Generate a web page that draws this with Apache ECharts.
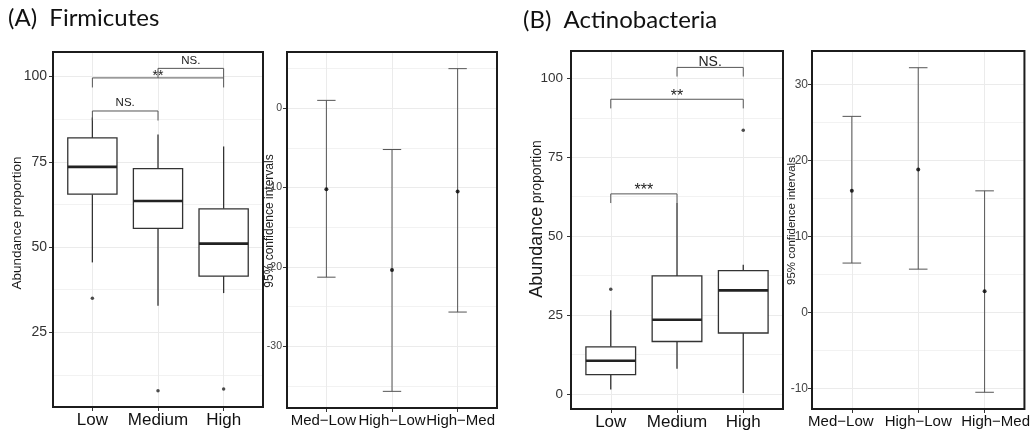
<!DOCTYPE html>
<html>
<head>
<meta charset="utf-8">
<script src="https://cdn.jsdelivr.net/npm/echarts@6/dist/echarts.min.js"></script>
<style>
  html, body { margin: 0; padding: 0; background: #fff; }
  #chart { width: 1033px; height: 432px; }
</style>
</head>
<body>
<div id="chart"></div>
<script>
// ---- data -------------------------------------------------------------
const groupLabels = ['Low', 'Medium', 'High'];
const contrastLabels = ['Med\u2212Low', 'High\u2212Low', 'High\u2212Med'];

// box summaries per group: [lower whisker, Q1, median, Q3, upper whisker]
const firmicutesBoxes = [
  [45.5, 65.5, 73.5, 82.0, 88.0],
  [32.8, 55.5, 63.5, 73.0, 83.0],
  [36.5, 41.5, 51.0, 61.2, 79.5]
];
// outliers: [group number, value]
const firmicutesOutliers = [[1, 35.0], [2, 7.9], [3, 8.4]];
// significance brackets: [from group, to group, height, label]
const firmicutesBrackets = [
  [1, 2, 89.9, 'NS.'],
  [1, 3, 99.6, '**'],
  [2, 3, 102.4, 'NS.']
];
// Tukey 95% confidence intervals: [lower, difference, upper]
const firmicutesCI = [
  [-21.3, -10.2, 1.0],
  [-35.7, -20.4, -5.2],
  [-25.7, -10.5, 5.0]
];

const actinoBoxes = [
  [1.4, 6.1, 10.5, 14.9, 26.5],
  [8.0, 16.6, 23.5, 37.4, 60.5],
  [0.3, 19.3, 32.8, 39.1, 40.9]
];
const actinoOutliers = [[1, 33.2], [3, 83.6]];
const actinoBrackets = [
  [1, 2, 63.4, '***'],
  [1, 3, 93.4, '**'],
  [2, 3, 103.5, 'NS.']
];
const actinoCI = [
  [6.5, 16.0, 25.8],
  [5.7, 18.8, 32.2],
  [-10.5, 2.8, 16.0]
];

// tick labels
const firmicutesTicks = [25, 50, 75, 100];
const actinoTicks = [0, 25, 50, 75, 100];
const firmicutesCITicks = [-30, -20, -10, 0];
const actinoCITicks = [-10, 0, 10, 20, 30];

// ---- drawing helpers ----------------------------------------------------
const SANS = "'Liberation Sans', Arial, Helvetica, sans-serif";
const INK = '#333';

function boxRenderer(params, api) {
  const x = api.value(0);
  const lo = api.coord([x, api.value(1)]);
  const q1 = api.coord([x, api.value(2)]);
  const md = api.coord([x, api.value(3)]);
  const q3 = api.coord([x, api.value(4)]);
  const hi = api.coord([x, api.value(5)]);
  const half = api.size([0.75, 0])[0] / 2;
  const st = { stroke: INK, lineWidth: 1.3 };
  return {
    type: 'group',
    children: [
      { type: 'line', shape: { x1: lo[0], y1: lo[1], x2: q1[0], y2: q1[1] }, style: st },
      { type: 'line', shape: { x1: q3[0], y1: q3[1], x2: hi[0], y2: hi[1] }, style: st },
      { type: 'rect', shape: { x: q1[0] - half, y: q3[1], width: half * 2, height: q1[1] - q3[1] },
        style: { fill: '#fff', stroke: INK, lineWidth: 1.3 } },
      { type: 'line', shape: { x1: md[0] - half, y1: md[1], x2: md[0] + half, y2: md[1] },
        style: { stroke: '#222', lineWidth: 2.6 } }
    ]
  };
}

function bracketRenderer(list, tip, txt) {
  return function (params, api) {
    const x1 = api.value(0), x2 = api.value(1), y = api.value(2);
    const a = api.coord([x1, y - tip]);
    const b = api.coord([x1, y]);
    const c = api.coord([x2, y]);
    const d = api.coord([x2, y - tip]);
    const label = list[params.dataIndex][3];
    const stars = label.indexOf('*') === 0;
    return {
      type: 'group',
      children: [
        { type: 'polyline', shape: { points: [a, b, c, d] },
          style: { stroke: '#555', lineWidth: 1, fill: null } },
        { type: 'text', x: (b[0] + c[0]) / 2, y: stars ? b[1] - txt.starLift : b[1] - txt.lift,
          style: { text: label, align: 'center', verticalAlign: stars ? 'middle' : 'bottom',
                   fontSize: stars ? txt.starSize : txt.size, fontFamily: SANS, fill: '#222' } }
      ]
    };
  };
}

function ciRenderer(params, api) {
  const x = api.value(0);
  const lo = api.coord([x, api.value(1)]);
  const hi = api.coord([x, api.value(3)]);
  const half = api.size([0.28, 0])[0] / 2;
  const st = { stroke: '#555', lineWidth: 1 };
  return {
    type: 'group',
    children: [
      { type: 'line', shape: { x1: lo[0], y1: lo[1], x2: hi[0], y2: hi[1] }, style: st },
      { type: 'line', shape: { x1: lo[0] - half, y1: lo[1], x2: lo[0] + half, y2: lo[1] }, style: st },
      { type: 'line', shape: { x1: hi[0] - half, y1: hi[1], x2: hi[0] + half, y2: hi[1] }, style: st }
    ]
  };
}

function gridCfg(left, top, width, height) {
  return { left, top, width, height, show: true, z: 10,
           backgroundColor: 'transparent', borderColor: '#1c1c1c', borderWidth: 2 };
}

// nudge: horizontal shift in px for the outer labels (first, last)
function xAxisCfg(gridIndex, labels, fontSize, color, nudge) {
  const n = nudge || 0;
  return {
    type: 'value', gridIndex, min: 0.4, max: 3.6, minInterval: 1, maxInterval: 1,
    axisLine: { show: false, onZero: false },
    axisTick: { show: true, length: 4, customValues: [1, 2, 3], lineStyle: { color: INK } },
    axisLabel: {
      customValues: [1, 2, 3],
      formatter: v => {
        const i = Math.round(v) - 1;
        const key = i === 0 ? 'l' : (i === 2 ? 'r' : 'c');
        return '{' + key + '|' + (labels[i] || '') + '}';
      },
      rich: {
        l: { fontSize, color, fontFamily: SANS, padding: [0, 2 * n, 0, 0] },
        c: { fontSize, color, fontFamily: SANS },
        r: { fontSize, color, fontFamily: SANS, padding: [0, 0, 0, 2 * n] }
      },
      fontSize, color, margin: 5, fontFamily: SANS,
      showMinLabel: true, showMaxLabel: true, hideOverlap: false
    },
    splitLine: { show: true, lineStyle: { color: '#ebebeb', width: 1 } }
  };
}

function yAxisCfg(gridIndex, min, max, step, ticks, fontSize, margin, color) {
  return {
    type: 'value', gridIndex, min, max, minInterval: step, maxInterval: step,
    axisLine: { show: false, onZero: false },
    axisTick: { show: true, length: 4, customValues: ticks, lineStyle: { color: INK } },
    axisLabel: { customValues: ticks, fontSize, color, margin, fontFamily: SANS,
                 showMinLabel: true, showMaxLabel: true, hideOverlap: false },
    splitLine: { show: true, lineStyle: { color: '#ebebeb', width: 1 } },
    minorTick: { show: false, splitNumber: 2 },
    minorSplitLine: { show: true, lineStyle: { color: '#f2f2f2', width: 1 } }
  };
}

const withGroup = rows => rows.map((r, i) => [i + 1].concat(r));

// ---- chart ------------------------------------------------------------
const chart = echarts.init(document.getElementById('chart'), null, { renderer: 'canvas' });

chart.setOption({
  backgroundColor: '#fff',
  animation: false,
  grid: [
    gridCfg(53, 52, 210, 355),
    gridCfg(287, 52, 210, 356),
    gridCfg(571, 51, 212, 358),
    gridCfg(812, 51, 215, 358)
  ],
  xAxis: [
    xAxisCfg(0, groupLabels, 17, '#111', 0),
    xAxisCfg(1, contrastLabels, 15, '#111', 3),
    xAxisCfg(2, groupLabels, 17, '#111', 0),
    xAxisCfg(3, contrastLabels, 15, '#111', 11)
  ],
  yAxis: [
    yAxisCfg(0, 3.1, 107.2, 25, firmicutesTicks, 14, 6, INK),
    yAxisCfg(1, -37.8, 7.1, 10, firmicutesCITicks, 10.5, 5, '#444'),
    yAxisCfg(2, -4.8, 108.7, 25, actinoTicks, 13.5, 8, INK),
    yAxisCfg(3, -12.7, 34.4, 10, actinoCITicks, 12, 4, '#444')
  ],
  graphic: [
    { type: 'text', left: 8, top: 6,
      style: { text: '(A)  Firmicutes', fontSize: 24, fontFamily: 'Lato, sans-serif', fill: '#111' } },
    { type: 'text', left: 523, top: 8,
      style: { text: '(B)  Actinobacteria', fontSize: 24, fontFamily: 'Lato, sans-serif', fill: '#111' } },
    { type: 'text', x: 17, y: 223, rotation: Math.PI / 2,
      style: { text: 'Abundance proportion', fontSize: 13.5, fontFamily: SANS, fill: '#1a1a1a',
               align: 'center', verticalAlign: 'middle' } },
    { type: 'text', x: 537, y: 219, rotation: Math.PI / 2,
      style: { text: '{a|Abundance} {b|proportion}', align: 'center', verticalAlign: 'middle',
               rich: { a: { fontSize: 18, fontFamily: SANS, fill: '#1a1a1a' },
                       b: { fontSize: 14, fontFamily: SANS, fill: '#1a1a1a' } } } },
    { type: 'text', x: 270, y: 221, rotation: Math.PI / 2,
      style: { text: '95% confidence intervals', fontSize: 12, fontFamily: SANS, fill: '#222',
               align: 'center', verticalAlign: 'middle' } },
    { type: 'text', x: 792, y: 221, rotation: Math.PI / 2,
      style: { text: '95% confidence intervals', fontSize: 11.5, fontFamily: SANS, fill: '#222',
               align: 'center', verticalAlign: 'middle' } }
  ],
  series: [
    // (A) Firmicutes
    { type: 'custom', xAxisIndex: 0, yAxisIndex: 0, renderItem: boxRenderer,
      encode: { x: 0, y: [1, 2, 3, 4, 5] }, data: withGroup(firmicutesBoxes), z: 3 },
    { type: 'scatter', xAxisIndex: 0, yAxisIndex: 0, data: firmicutesOutliers,
      symbolSize: 3.5, itemStyle: { color: '#222' }, z: 4 },
    { type: 'custom', xAxisIndex: 0, yAxisIndex: 0,
      renderItem: bracketRenderer(firmicutesBrackets, 2.8, { size: 11.5, starSize: 14, lift: 2, starLift: 1.5 }),
      encode: { x: [0, 1], y: 2 }, data: firmicutesBrackets.map(r => r.slice(0, 3)), z: 5 },
    { type: 'custom', xAxisIndex: 1, yAxisIndex: 1, renderItem: ciRenderer,
      encode: { x: 0, y: [1, 2, 3] }, data: withGroup(firmicutesCI), z: 3 },
    { type: 'scatter', xAxisIndex: 1, yAxisIndex: 1,
      data: firmicutesCI.map((r, i) => [i + 1, r[1]]),
      symbolSize: 4, itemStyle: { color: '#000' }, z: 4 },

    // (B) Actinobacteria
    { type: 'custom', xAxisIndex: 2, yAxisIndex: 2, renderItem: boxRenderer,
      encode: { x: 0, y: [1, 2, 3, 4, 5] }, data: withGroup(actinoBoxes), z: 3 },
    { type: 'scatter', xAxisIndex: 2, yAxisIndex: 2, data: actinoOutliers,
      symbolSize: 3.5, itemStyle: { color: '#222' }, z: 4 },
    { type: 'custom', xAxisIndex: 2, yAxisIndex: 2,
      renderItem: bracketRenderer(actinoBrackets, 2.9, { size: 14, starSize: 16, lift: -2, starLift: 3 }),
      encode: { x: [0, 1], y: 2 }, data: actinoBrackets.map(r => r.slice(0, 3)), z: 5 },
    { type: 'custom', xAxisIndex: 3, yAxisIndex: 3, renderItem: ciRenderer,
      encode: { x: 0, y: [1, 2, 3] }, data: withGroup(actinoCI), z: 3 },
    { type: 'scatter', xAxisIndex: 3, yAxisIndex: 3,
      data: actinoCI.map((r, i) => [i + 1, r[1]]),
      symbolSize: 4, itemStyle: { color: '#000' }, z: 4 }
  ]
});
</script>
</body>
</html>
